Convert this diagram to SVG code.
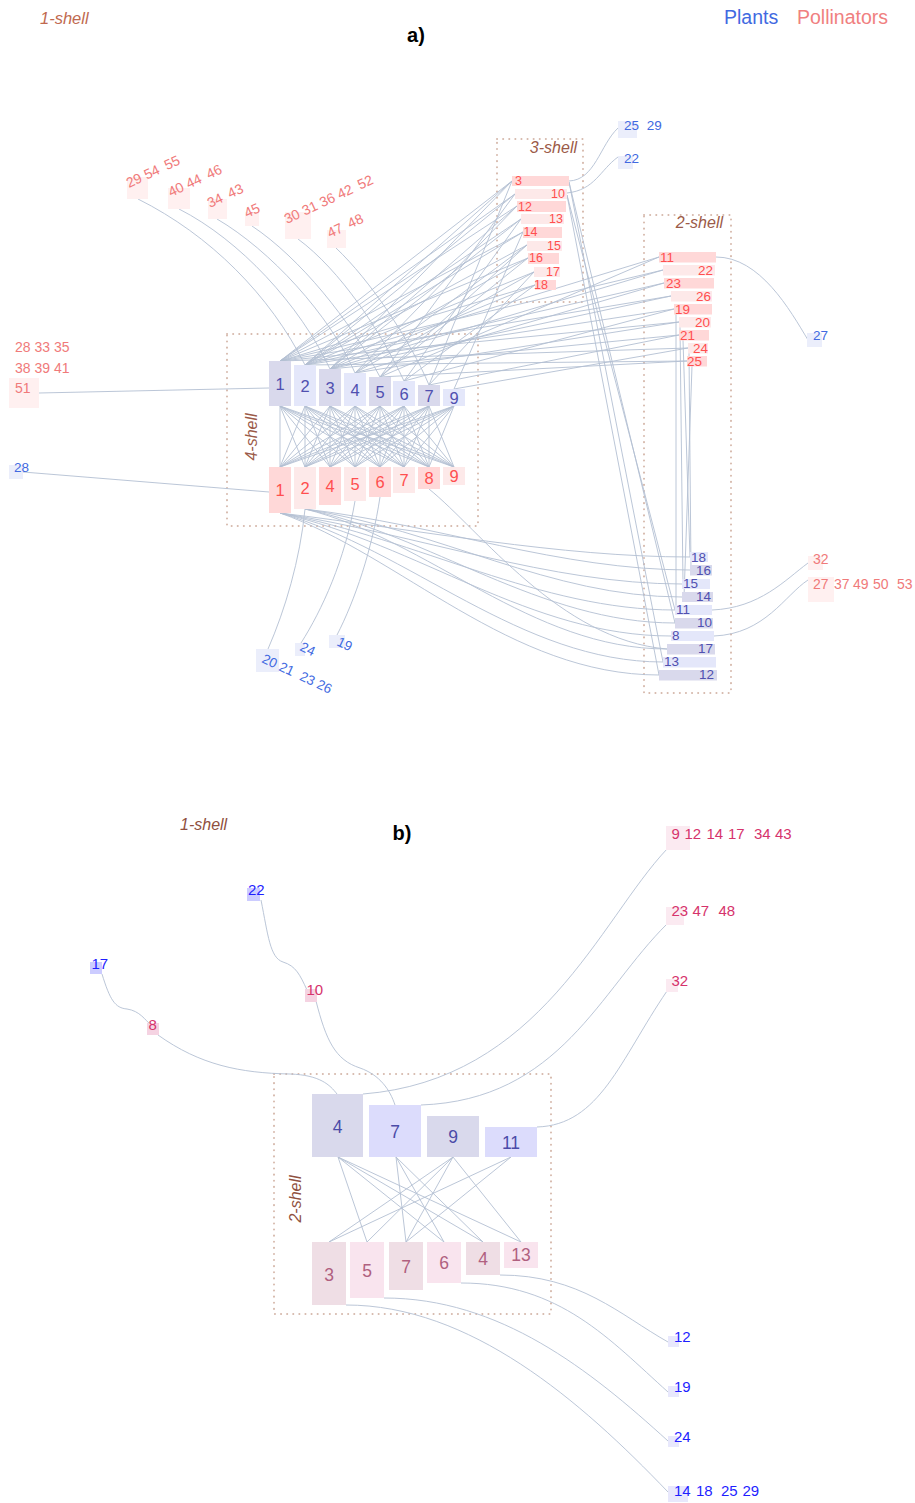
<svg xmlns="http://www.w3.org/2000/svg" width="915" height="1503" viewBox="0 0 915 1503">
<style>
.f{font-family:"Liberation Sans",Arial,sans-serif}
.e{fill:none;stroke:#b3c0d3;stroke-width:0.9}
.dot{fill:none;stroke:#d6b9ac;stroke-width:2;stroke-dasharray:0.1 6;stroke-linecap:round}
.pd{fill:#d9d9ec}.pl{fill:#e4e7fa}
.qd{fill:#ffd8d8}.ql{fill:#fde9e9}
.tp{fill:#5050b0}.tq{fill:#ff4f4f}
.to{fill:#f07a7a}.ob{fill:#fff0f0}
.tb{fill:#4169e1}.bb{fill:#ebeefb}
.sh{fill:#9b5a48;font-style:italic;font-size:16px}
.bpd{fill:#d9d9ec}.bpl{fill:#dcdcfc}
.bqd{fill:#efdee5}.bql{fill:#f9e4ee}
.btp{fill:#4b4ba8}.btq{fill:#b0607f}
.bb1{fill:#1f1fff}.bo1{fill:#d6336c}
</style>

<!-- titles -->
<g id="titles" class="f">
<text x="40" y="24" class="sh" style="fill:#c0694f;font-size:16.5px">1-shell</text>
<text x="416" y="42" text-anchor="middle" font-weight="bold" font-size="20" fill="#000">a)</text>
<text x="724" y="24" font-size="19.5" fill="#4169e1">Plants</text>
<text x="797" y="24" font-size="19.5" fill="#f08080">Pollinators</text>
<text x="180" y="830" class="sh" style="fill:#8f5040">1-shell</text>
<text x="402" y="840" text-anchor="middle" font-weight="bold" font-size="20" fill="#000">b)</text>
</g>

<!-- shell frames -->
<g id="shells" class="f">
<rect x="227" y="334" width="251" height="192" class="dot"/>
<text class="sh" text-anchor="middle" transform="translate(257 437) rotate(-90)">4-shell</text>
<rect x="497" y="139" width="86" height="163" class="dot"/>
<text x="577" y="153" class="sh" text-anchor="end">3-shell</text>
<rect x="644" y="215" width="87" height="478" class="dot"/>
<text x="723" y="228" class="sh" text-anchor="end">2-shell</text>
<rect x="274" y="1074" width="277" height="240" class="dot"/>
<text class="sh" text-anchor="middle" style="fill:#8f5040" transform="translate(301 1199) rotate(-90)">2-shell</text>
</g>

<!-- connectors -->
<g id="connectors" class="e">
<!-- a) 4-shell internal -->
<path d="M280 406L280 467M280 406L305 467M280 406L330 467M280 406L355 467M280 406L380 467M280 406L404 467M280 406L429 467M280 406L454 467"/>
<path d="M305 406L280 467M305 406L305 467M305 406L330 467M305 406L355 467M305 406L380 467M305 406L404 467M305 406L429 467M305 406L454 467"/>
<path d="M330 406L280 467M330 406L305 467M330 406L330 467M330 406L355 467M330 406L380 467M330 406L404 467M330 406L429 467M330 406L454 467"/>
<path d="M355 406L280 467M355 406L305 467M355 406L330 467M355 406L355 467M355 406L380 467M355 406L404 467M355 406L429 467M355 406L454 467"/>
<path d="M380 406L280 467M380 406L305 467M380 406L330 467M380 406L355 467M380 406L380 467M380 406L404 467M380 406L429 467M380 406L454 467"/>
<path d="M404 406L280 467M404 406L305 467M404 406L330 467M404 406L355 467M404 406L380 467M404 406L404 467M404 406L429 467M404 406L454 467"/>
<path d="M429 406L280 467M429 406L305 467M429 406L330 467M429 406L355 467M429 406L380 467M429 406L404 467M429 406L429 467M429 406L454 467"/>
<path d="M454 406L280 467M454 406L305 467M454 406L330 467M454 406L355 467M454 406L380 467M454 406L404 467M454 406L429 467"/>
<!-- a) 3-shell to 4-shell plants -->
<path d="M512 181L280 361M512 181L305 365M512 181L330 369M512 181L429 385"/>
<path d="M515 194L280 361M515 194L305 365M515 194L380 377"/>
<path d="M517 206L280 361M517 206L330 369M517 206L355 373"/>
<path d="M521 219L305 365M521 219L330 369M521 219L404 381"/>
<path d="M523 232L280 361M523 232L305 365M523 232L454 389"/>
<path d="M527 245L305 365M527 245L355 373M527 245L380 377"/>
<path d="M528 258L280 361M528 258L330 369M528 258L380 377"/>
<path d="M534 272L305 365M534 272L355 373M534 272L429 385"/>
<path d="M535 285L280 361M535 285L330 369M535 285L404 381"/>
<!-- a) 2-shell pollinators to 4-shell plants -->
<path d="M659 257L305 365M659 257L380 377"/>
<path d="M663 270L280 361M663 270L330 369"/>
<path d="M664 283L305 365M664 283L355 373"/>
<path d="M671 296L280 361M671 296L330 369"/>
<path d="M674 309L305 365M674 309L404 381"/>
<path d="M679 322L280 361M679 322L355 373"/>
<path d="M679 335L330 369M679 335L429 385"/>
<path d="M688 348L280 361M688 348L454 389"/>
<path d="M687 361L305 365M687 361L380 377"/>
<!-- a) within 2-shell -->
<path d="M676 314L676 610M680 327L683 584M683 340L690 557M689 353L691 570M692 366L684 597"/>
<!-- a) 3-shell to 2-shell plants -->
<path d="M569 182L663 662M569 182L675 623M567 195L659 675M567 195L675 610"/>
<!-- a) 4-shell pollinators to 2-shell plants -->
<path d="M280 513C420 530 560 557 690 557"/>
<path d="M280 513C420 535 550 584 682 584"/>
<path d="M280 513C420 540 540 610 675 610"/>
<path d="M280 513C420 545 530 636 671 636"/>
<path d="M280 513C410 550 520 662 663 662"/>
<path d="M280 513C400 555 510 675 659 675"/>
<path d="M305 509C440 525 560 570 690 570"/>
<path d="M305 509C440 530 550 597 682 597"/>
<path d="M305 509C430 535 540 623 675 623"/>
<path d="M305 509C430 540 530 649 667 649"/>
<path d="M429 489C480 530 560 640 667 649"/>
<!-- a) 1-shell pollinators top-left -->
<path d="M138 199C210 235 270 295 305 365"/>
<path d="M179 209C240 240 300 305 330 369"/>
<path d="M217 219C270 250 330 315 355 373"/>
<path d="M252 226C300 258 350 320 380 377"/>
<path d="M298 239C340 270 380 330 404 381"/>
<path d="M336 248C370 280 410 340 429 385"/>
<!-- a) left -->
<path d="M39 393L269 388"/>
<path d="M23 472L269 492"/>
<!-- a) bottom 1-shell plants -->
<path d="M305 509C300 560 285 610 268 649"/>
<path d="M355 501C345 560 322 610 301 643"/>
<path d="M380 497C372 550 355 600 337 635"/>
<!-- a) right side -->
<path d="M569 181C595 180 600 145 618 128"/>
<path d="M567 193C595 190 600 170 618 157"/>
<path d="M716 257C760 257 790 310 808 340"/>
<path d="M712 610C760 608 785 580 808 563"/>
<path d="M714 636C765 634 785 595 808 580"/>
<!-- b) internal -->
<path d="M338 1157L367 1242M338 1157L444 1242M338 1157L483 1242M338 1157L521 1242"/>
<path d="M396 1157L406 1242M396 1157L444 1242M396 1157L483 1242"/>
<path d="M453 1157L329 1242M453 1157L367 1242M453 1157L406 1242M453 1157L521 1242"/>
<path d="M511 1157L329 1242M511 1157L406 1242"/>
<!-- b) external -->
<path d="M102 974C110 1000 115 1008 127 1009C140 1011 145 1020 151 1025"/>
<path d="M261 900C268 935 270 958 283 962C296 966 300 975 307 990"/>
<path d="M158 1035C200 1065 240 1073 290 1074C320 1075 330 1085 337 1094"/>
<path d="M316 1001C326 1040 335 1060 360 1068C380 1075 390 1090 395 1105"/>
<path d="M667 849C600 920 540 1080 363 1094"/>
<path d="M667 924C600 990 560 1100 421 1105"/>
<path d="M667 991C620 1060 600 1125 537 1127"/>
<path d="M500 1275C580 1275 620 1315 668 1342"/>
<path d="M461 1283C560 1283 610 1340 668 1392"/>
<path d="M384 1298C500 1298 590 1370 668 1441"/>
<path d="M346 1305C470 1305 580 1400 668 1492"/>
</g>

<!-- a) 4-shell plants -->
<g class="f" font-size="16.5" text-anchor="middle">
<g id="a-plant-1"><rect x="269" y="361" width="22" height="45" class="pd"/><text x="280" y="390" class="tp">1</text></g>
<g id="a-plant-2"><rect x="294" y="365" width="22" height="41" class="pl"/><text x="305" y="392" class="tp">2</text></g>
<g id="a-plant-3"><rect x="319" y="369" width="22" height="37" class="pd"/><text x="330" y="394" class="tp">3</text></g>
<g id="a-plant-4"><rect x="344" y="373" width="22" height="33" class="pl"/><text x="355" y="396" class="tp">4</text></g>
<g id="a-plant-5"><rect x="369" y="377" width="22" height="29" class="pd"/><text x="380" y="398" class="tp">5</text></g>
<g id="a-plant-6"><rect x="393" y="381" width="22" height="25" class="pl"/><text x="404" y="400" class="tp">6</text></g>
<g id="a-plant-7"><rect x="418" y="385" width="22" height="21" class="pd"/><text x="429" y="402" class="tp">7</text></g>
<g id="a-plant-9"><rect x="443" y="389" width="22" height="17" class="pl"/><text x="454" y="404" class="tp">9</text></g>
<!-- a) 4-shell pollinators -->
<g id="a-poll-1"><rect x="269" y="467" width="22" height="46" class="qd"/><text x="280" y="496" class="tq">1</text></g>
<g id="a-poll-2"><rect x="294" y="467" width="22" height="42" class="ql"/><text x="305" y="494" class="tq">2</text></g>
<g id="a-poll-4"><rect x="319" y="467" width="22" height="38" class="qd"/><text x="330" y="492" class="tq">4</text></g>
<g id="a-poll-5"><rect x="344" y="467" width="22" height="34" class="ql"/><text x="355" y="490" class="tq">5</text></g>
<g id="a-poll-6"><rect x="369" y="467" width="22" height="30" class="qd"/><text x="380" y="488" class="tq">6</text></g>
<g id="a-poll-7"><rect x="393" y="467" width="22" height="26" class="ql"/><text x="404" y="486" class="tq">7</text></g>
<g id="a-poll-8"><rect x="418" y="467" width="22" height="22" class="qd"/><text x="429" y="484" class="tq">8</text></g>
<g id="a-poll-9"><rect x="443" y="467" width="22" height="18" class="ql"/><text x="454" y="482" class="tq">9</text></g>
</g>

<!-- a) 3-shell pollinators -->
<g class="f" font-size="12.5">
<g id="a3-poll-3"><rect x="512" y="176" width="57" height="10" class="qd"/><text x="515" y="185" class="tq">3</text></g>
<g id="a3-poll-10"><rect x="515" y="189" width="52" height="10" class="ql"/><text x="565" y="198" class="tq" text-anchor="end">10</text></g>
<g id="a3-poll-12"><rect x="517" y="201" width="49" height="11" class="qd"/><text x="518" y="210.5" class="tq">12</text></g>
<g id="a3-poll-13"><rect x="521" y="214" width="43" height="10" class="ql"/><text x="563" y="223" class="tq" text-anchor="end">13</text></g>
<g id="a3-poll-14"><rect x="523" y="227" width="39" height="11" class="qd"/><text x="523.5" y="236" class="tq">14</text></g>
<g id="a3-poll-15"><rect x="527" y="241" width="35" height="10" class="ql"/><text x="561" y="249.5" class="tq" text-anchor="end">15</text></g>
<g id="a3-poll-16"><rect x="528" y="253" width="31" height="11" class="qd"/><text x="529" y="262" class="tq">16</text></g>
<g id="a3-poll-17"><rect x="534" y="267" width="26" height="10" class="ql"/><text x="560" y="275.5" class="tq" text-anchor="end">17</text></g>
<g id="a3-poll-18"><rect x="535" y="280" width="21" height="10" class="qd"/><text x="534" y="289" class="tq">18</text></g>
</g>

<!-- a) 2-shell pollinators -->
<g class="f" font-size="13.5">
<g id="a2-poll-11"><rect x="659" y="252" width="57" height="10.5" class="qd"/><text x="660" y="261.5" class="tq">11</text></g>
<g id="a2-poll-22"><rect x="663" y="265" width="52" height="10.5" class="ql"/><text x="713" y="274.5" class="tq" text-anchor="end">22</text></g>
<g id="a2-poll-23"><rect x="664" y="278" width="50" height="10.5" class="qd"/><text x="666" y="287.5" class="tq">23</text></g>
<g id="a2-poll-26"><rect x="671" y="291" width="41" height="10.5" class="ql"/><text x="711" y="300.5" class="tq" text-anchor="end">26</text></g>
<g id="a2-poll-19"><rect x="674" y="304" width="38" height="10.5" class="qd"/><text x="675" y="313.5" class="tq">19</text></g>
<g id="a2-poll-20"><rect x="679" y="317" width="32" height="10.5" class="ql"/><text x="710" y="326.5" class="tq" text-anchor="end">20</text></g>
<g id="a2-poll-21"><rect x="679" y="330" width="30" height="10.5" class="qd"/><text x="680" y="339.5" class="tq">21</text></g>
<g id="a2-poll-24"><rect x="688" y="343" width="20" height="10.5" class="ql"/><text x="708" y="352.5" class="tq" text-anchor="end">24</text></g>
<g id="a2-poll-25"><rect x="687" y="356" width="20" height="10.5" class="qd"/><text x="687" y="365.5" class="tq">25</text></g>
<!-- a) 2-shell plants -->
<g id="a2-plant-18"><rect x="690" y="552" width="18" height="10" class="pl"/><text x="691" y="561.5" class="tp">18</text></g>
<g id="a2-plant-16"><rect x="690" y="565" width="22" height="10.5" class="pd"/><text x="711" y="574.5" class="tp" text-anchor="end">16</text></g>
<g id="a2-plant-15"><rect x="682" y="579" width="28" height="10" class="pl"/><text x="683" y="588" class="tp">15</text></g>
<g id="a2-plant-14"><rect x="682" y="592" width="31" height="10" class="pd"/><text x="711" y="601" class="tp" text-anchor="end">14</text></g>
<g id="a2-plant-11"><rect x="675" y="605" width="37" height="10" class="pl"/><text x="676" y="614" class="tp">11</text></g>
<g id="a2-plant-10"><rect x="675" y="618" width="38" height="10.5" class="pd"/><text x="712" y="627" class="tp" text-anchor="end">10</text></g>
<g id="a2-plant-8"><rect x="671" y="631" width="43" height="10" class="pl"/><text x="672" y="640" class="tp">8</text></g>
<g id="a2-plant-17"><rect x="667" y="644" width="48" height="10.5" class="pd"/><text x="713" y="653" class="tp" text-anchor="end">17</text></g>
<g id="a2-plant-13"><rect x="663" y="657" width="53" height="10.5" class="pl"/><text x="664" y="666" class="tp">13</text></g>
<g id="a2-plant-12"><rect x="659" y="670" width="58" height="10.5" class="pd"/><text x="714" y="679" class="tp" text-anchor="end">12</text></g>
</g>

<!-- a) 1-shell nodes -->
<g class="f" font-size="14">
<g id="a1-poll-29"><rect x="127" y="177" width="21" height="22" class="ob"/><text class="to" transform="translate(129 188) rotate(-25)">29 54 <tspan dx="3">55</tspan></text></g>
<g id="a1-poll-40"><rect x="168" y="188" width="22" height="21" class="ob"/><text class="to" transform="translate(171 197) rotate(-25)">40 44 <tspan dx="3">46</tspan></text></g>
<g id="a1-poll-34"><rect x="208" y="199" width="19" height="20" class="ob"/><text class="to" transform="translate(210 208) rotate(-25)">34 <tspan dx="3">43</tspan></text></g>
<g id="a1-poll-45"><rect x="245" y="212" width="14" height="14" class="ob"/><text class="to" transform="translate(247 218) rotate(-25)">45</text></g>
<g id="a1-poll-30"><rect x="285" y="212" width="26" height="27" class="ob"/><text class="to" transform="translate(287 224) rotate(-25)">30 31 36 42 <tspan dx="3">52</tspan></text></g>
<g id="a1-poll-47"><rect x="327" y="230" width="19" height="18" class="ob"/><text class="to" transform="translate(330 238) rotate(-25)">47 <tspan dx="3">48</tspan></text></g>
<g id="a1-poll-28"><text x="15" y="352" class="to">28 33 35</text></g>
<g id="a1-poll-38"><text x="15" y="373" class="to">38 39 41</text></g>
<g id="a1-poll-51"><rect x="9" y="378" width="30" height="30" class="ob"/><text x="15" y="393" class="to">51</text></g>
<g id="a1-poll-32"><rect x="808" y="556" width="15" height="14" class="ob"/><text x="813" y="563.5" class="to">32</text></g>
<g id="a1-poll-27"><rect x="808" y="577" width="26" height="25" class="ob"/><text y="589" class="to"><tspan x="813">27</tspan><tspan x="834">37</tspan><tspan x="853">49</tspan><tspan x="873">50</tspan><tspan x="897">53</tspan></text></g>
</g>
<g class="f" font-size="13.5">
<g id="a1-plant-28"><rect x="9" y="465" width="14" height="14" class="bb"/><text x="14" y="472" class="tb">28</text></g>
<g id="a1-plant-25"><rect x="618" y="121" width="19" height="17" class="bb"/><text x="624" y="130" class="tb">25 <tspan dx="4">29</tspan></text></g>
<g id="a1-plant-22"><rect x="618" y="156" width="15" height="13" class="bb"/><text x="624" y="163" class="tb">22</text></g>
<g id="a1-plant-27"><rect x="807" y="333" width="15" height="14" class="bb"/><text x="813" y="340" class="tb">27</text></g>
<g id="a1-plant-20"><rect x="256" y="649" width="23" height="23" class="bb"/><text class="tb" transform="translate(261 662) rotate(25)">20 21 <tspan dx="4">23 26</tspan></text></g>
<g id="a1-plant-24"><rect x="295" y="643" width="10" height="13" class="bb"/><text class="tb" transform="translate(299 650) rotate(25)">24</text></g>
<g id="a1-plant-19"><rect x="329" y="635" width="16" height="13" class="bb"/><text class="tb" transform="translate(336 645) rotate(25)">19</text></g>
</g>

<!-- b) 2-shell plants -->
<g class="f" font-size="17.5" text-anchor="middle">
<g id="b-plant-4"><rect x="312" y="1094" width="51" height="63" class="bpd"/><text x="337.5" y="1133" class="btp">4</text></g>
<g id="b-plant-7"><rect x="369" y="1105" width="52" height="52" class="bpl"/><text x="395" y="1138" class="btp">7</text></g>
<g id="b-plant-9"><rect x="427" y="1116" width="52" height="41" class="bpd"/><text x="453" y="1143" class="btp">9</text></g>
<g id="b-plant-11"><rect x="485" y="1127" width="52" height="30" class="bpl"/><text x="511" y="1149" class="btp">11</text></g>
<!-- b) 2-shell pollinators -->
<g id="b-poll-3"><rect x="312" y="1242" width="34" height="63" class="bqd"/><text x="329" y="1281" class="btq">3</text></g>
<g id="b-poll-5"><rect x="350" y="1242" width="34" height="56" class="bql"/><text x="367" y="1277" class="btq">5</text></g>
<g id="b-poll-7"><rect x="389" y="1242" width="34" height="48" class="bqd"/><text x="406" y="1273" class="btq">7</text></g>
<g id="b-poll-6"><rect x="427" y="1242" width="34" height="41" class="bql"/><text x="444" y="1269" class="btq">6</text></g>
<g id="b-poll-4"><rect x="466" y="1242" width="34" height="33" class="bqd"/><text x="483" y="1265" class="btq">4</text></g>
<g id="b-poll-13"><rect x="504" y="1242" width="34" height="26" class="bql"/><text x="521" y="1261" class="btq">13</text></g>
</g>

<!-- b) 1-shell nodes -->
<g class="f" font-size="15">
<g id="b1-plant-22"><rect x="247" y="888" width="13" height="13" fill="#ccccff"/><text x="248" y="895" class="bb1">22</text></g>
<g id="b1-plant-17"><rect x="90" y="962" width="12" height="12" fill="#ccccff"/><text x="91.5" y="968.5" class="bb1">17</text></g>
<g id="b1-poll-10"><rect x="305" y="989" width="12" height="13" fill="#f5d3e2"/><text x="306.5" y="995" class="bo1">10</text></g>
<g id="b1-poll-8"><rect x="147" y="1023" width="12" height="12" fill="#f5d3e2"/><text x="148.5" y="1029.5" class="bo1">8</text></g>
<g id="b1-poll-9"><rect x="666" y="826" width="24" height="24" fill="#fbeaf1"/><text y="838.5" class="bo1"><tspan x="671.5">9</tspan><tspan x="684.5">12</tspan><tspan x="706.5">14</tspan><tspan x="728">17</tspan><tspan x="754">34</tspan><tspan x="775">43</tspan></text></g>
<g id="b1-poll-23"><rect x="666" y="907" width="18" height="18" fill="#fbeaf1"/><text y="916" class="bo1"><tspan x="671.5">23</tspan><tspan x="692.5">47</tspan><tspan x="718.5">48</tspan></text></g>
<g id="b1-poll-32"><rect x="666" y="979" width="12" height="13" fill="#fbeaf1"/><text x="671.5" y="986" class="bo1">32</text></g>
<g id="b1-plant-12"><rect x="668" y="1336" width="11" height="11" fill="#e8e8fc"/><text x="674" y="1342" class="bb1">12</text></g>
<g id="b1-plant-19"><rect x="668" y="1386" width="11" height="11" fill="#e8e8fc"/><text x="674" y="1392" class="bb1">19</text></g>
<g id="b1-plant-24"><rect x="668" y="1436" width="11" height="11" fill="#e8e8fc"/><text x="674" y="1442" class="bb1">24</text></g>
<g id="b1-plant-14"><rect x="668" y="1486" width="20" height="16" fill="#e8e8fc"/><text y="1496" class="bb1"><tspan x="674">14</tspan><tspan x="696">18</tspan><tspan x="721">25</tspan><tspan x="742.5">29</tspan></text></g>
</g>
</svg>
